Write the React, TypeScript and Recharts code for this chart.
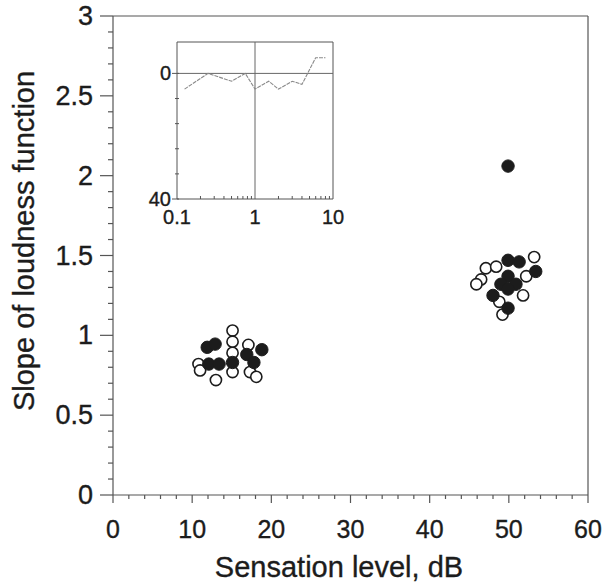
import React from 'react';
import { ScatterChart, Scatter, XAxis, YAxis, ReferenceLine, Label, LineChart, Line } from 'recharts';

// open circles: sensation level (dB) vs loudness slope
const openPoints = [
  { sl: 15.1, slope: 1.03 },
  { sl: 15.1, slope: 0.96 },
  { sl: 15.1, slope: 0.89 },
  { sl: 15.1, slope: 0.77 },
  { sl: 17.1, slope: 0.94 },
  { sl: 10.8, slope: 0.82 },
  { sl: 11.0, slope: 0.78 },
  { sl: 13.0, slope: 0.72 },
  { sl: 17.3, slope: 0.77 },
  { sl: 18.1, slope: 0.74 },
  { sl: 53.2, slope: 1.49 },
  { sl: 47.1, slope: 1.42 },
  { sl: 48.4, slope: 1.43 },
  { sl: 46.5, slope: 1.35 },
  { sl: 45.9, slope: 1.32 },
  { sl: 52.2, slope: 1.37 },
  { sl: 51.8, slope: 1.25 },
  { sl: 49.2, slope: 1.13 },
  { sl: 48.8, slope: 1.21 },
];

// filled circles
const filledPoints = [
  { sl: 11.9, slope: 0.925 },
  { sl: 12.9, slope: 0.945 },
  { sl: 12.1, slope: 0.82 },
  { sl: 13.4, slope: 0.82 },
  { sl: 15.1, slope: 0.83 },
  { sl: 16.9, slope: 0.88 },
  { sl: 17.8, slope: 0.83 },
  { sl: 18.8, slope: 0.91 },
  { sl: 49.9, slope: 2.06 },
  { sl: 49.9, slope: 1.47 },
  { sl: 51.3, slope: 1.46 },
  { sl: 53.4, slope: 1.40 },
  { sl: 49.9, slope: 1.37 },
  { sl: 49.0, slope: 1.32 },
  { sl: 50.9, slope: 1.32 },
  { sl: 48.0, slope: 1.25 },
  { sl: 49.9, slope: 1.29 },
  { sl: 49.9, slope: 1.17 },
];

const xMajor = [0, 10, 20, 30, 40, 50, 60];
const xTicks = [0, 2, 4, 6, 8, 10, 12, 14, 16, 18, 20, 22, 24, 26, 28, 30, 32, 34, 36, 38, 40, 42, 44, 46, 48, 50, 52, 54, 56, 58, 60];
const yMajor = [0, 0.5, 1, 1.5, 2, 2.5, 3];
const yTicks = [0, 0.1, 0.2, 0.3, 0.4, 0.5, 0.6, 0.7, 0.8, 0.9, 1, 1.1, 1.2, 1.3, 1.4, 1.5, 1.6, 1.7, 1.8, 1.9, 2, 2.1, 2.2, 2.3, 2.4, 2.5, 2.6, 2.7, 2.8, 2.9, 3];

// inset: audiogram (kHz vs dB HL)
const freqs = [0.125, 0.25, 0.5, 0.75, 1, 1.5, 2, 3, 4, 6, 8];
const hearingLevel = [5, 0, 2.5, 0, 5, 2.5, 5, 2.5, 3.5, -5, -5];
const insetXMajor = [0.1, 1, 10];
const insetXTicks = [0.1, 0.2, 0.3, 0.4, 0.5, 0.6, 0.7, 0.8, 0.9, 1, 2, 3, 4, 5, 6, 7, 8, 9, 10];
const insetYMajor = [0, 40];
const insetYTicks = [0, 8, 16, 24, 32, 40];

const audiogram = freqs.map((f, i) => ({ f, hl: hearingLevel[i] }));

const FONT = '"Liberation Sans", Arial, Helvetica, sans-serif';
const AXIS = '#555';
const INK = '#1c1c1c';
const textStyle = { fontFamily: FONT, fill: INK, stroke: INK, strokeWidth: 0.35 };

const MainXTick = (props: any) => {
  const { x, y, payload } = props;
  const major = xMajor.includes(payload.value);
  return (
    <g>
      <line x1={x} x2={x} y1={y} y2={y + (major ? 8 : 4)} stroke={AXIS} strokeWidth={1.2} />
      {major && (
        <text x={x} y={y + 34} textAnchor="middle" dominantBaseline="central" fontSize={25} style={textStyle}>
          {payload.value}
        </text>
      )}
    </g>
  );
};

const MainYTick = (props: any) => {
  const { x, y, payload } = props;
  const major = yMajor.includes(payload.value);
  return (
    <g>
      <line x1={x} x2={x - (major ? 13 : 5)} y1={y} y2={y} stroke={AXIS} strokeWidth={1.2} />
      {major && (
        <text x={x - 20} y={y} textAnchor="end" dominantBaseline="central" fontSize={27} style={textStyle}>
          {payload.value}
        </text>
      )}
    </g>
  );
};

const InsetXTick = (props: any) => {
  const { x, y, payload } = props;
  const major = insetXMajor.includes(payload.value);
  return (
    <g>
      <line x1={x} x2={x} y1={y} y2={y - (major ? 0 : 3)} stroke={AXIS} strokeWidth={1} />
      {major && (
        <text x={x} y={y + 18} textAnchor="middle" dominantBaseline="central" fontSize={20} style={textStyle}>
          {payload.value}
        </text>
      )}
    </g>
  );
};

const InsetYTick = (props: any) => {
  const { x, y, payload } = props;
  const major = insetYMajor.includes(payload.value);
  return (
    <g>
      <line x1={x - (major ? 5 : 2)} x2={x + 2} y1={y} y2={y} stroke={AXIS} strokeWidth={1} />
      {major && (
        <text x={x - 6} y={y} textAnchor="end" dominantBaseline="central" fontSize={20} style={textStyle}>
          {payload.value}
        </text>
      )}
    </g>
  );
};

const OpenDot = (props: any) => (
  <circle cx={props.cx} cy={props.cy} r={5.6} fill="#fff" stroke={INK} strokeWidth={1.6} />
);
const FilledDot = (props: any) => (
  <circle cx={props.cx} cy={props.cy} r={6.2} fill={INK} stroke={INK} strokeWidth={1} />
);

const Inset = () => (
  <LineChart width={230} height={200} data={audiogram} margin={{ top: 12, right: 27, bottom: 0, left: 0 }}>
    <XAxis
      dataKey="f"
      type="number"
      scale="log"
      domain={[0.1, 10]}
      allowDataOverflow
      ticks={insetXTicks}
      interval={0}
      tick={<InsetXTick />}
      tickLine={false}
      tickSize={0}
      tickMargin={0}
      height={31}
      axisLine={{ stroke: AXIS, strokeWidth: 1 }}
    />
    <YAxis
      type="number"
      domain={[-10, 40]}
      reversed
      allowDataOverflow
      ticks={insetYTicks}
      interval={0}
      tick={<InsetYTick />}
      tickLine={false}
      tickSize={0}
      tickMargin={0}
      width={47}
      axisLine={{ stroke: AXIS, strokeWidth: 1 }}
    />
    <ReferenceLine y={-10} stroke={AXIS} strokeWidth={1} />
    <ReferenceLine x={10} stroke={AXIS} strokeWidth={1} />
    <ReferenceLine y={0} stroke="#666" strokeWidth={1} />
    <ReferenceLine x={1} stroke="#666" strokeWidth={1} />
    <Line dataKey="hl" stroke="#8a8a8a" strokeWidth={1.1} strokeDasharray="4 1" dot={false} isAnimationActive={false} />
  </LineChart>
);

export default function App() {
  return (
    <div style={{ position: 'absolute', left: 0, top: 0, width: 603, height: 583, background: '#fff' }}>
      <ScatterChart width={603} height={583} margin={{ top: 16, right: 15, bottom: 0, left: 0 }}>
        <XAxis
          dataKey="sl"
          type="number"
          domain={[0, 60]}
          ticks={xTicks}
          interval={0}
          tick={<MainXTick />}
          tickLine={false}
          tickSize={0}
          tickMargin={0}
          height={88}
          axisLine={{ stroke: AXIS, strokeWidth: 1.2 }}
        >
          <Label
            content={() => (
              <text x={339} y={577} textAnchor="middle" fontSize={29} style={textStyle}>
                Sensation level, dB
              </text>
            )}
          />
        </XAxis>
        <YAxis
          dataKey="slope"
          type="number"
          domain={[0, 3]}
          ticks={yTicks}
          interval={0}
          tick={<MainYTick />}
          tickLine={false}
          tickSize={0}
          tickMargin={0}
          width={113}
          axisLine={{ stroke: AXIS, strokeWidth: 1.2 }}
        >
          <Label
            content={() => (
              <text x={34} y={241} transform="rotate(-90 34 241)" textAnchor="middle" fontSize={29} style={textStyle}>
                Slope of loudness function
              </text>
            )}
          />
        </YAxis>
        <ReferenceLine y={3} stroke={AXIS} strokeWidth={1.2} />
        <ReferenceLine x={60} stroke={AXIS} strokeWidth={1.2} />
        <Scatter data={openPoints} shape={<OpenDot />} isAnimationActive={false} />
        <Scatter data={filledPoints} shape={<FilledDot />} isAnimationActive={false} />
      </ScatterChart>
      <div style={{ position: 'absolute', left: 130, top: 30 }}>
        <Inset />
      </div>
    </div>
  );
}
